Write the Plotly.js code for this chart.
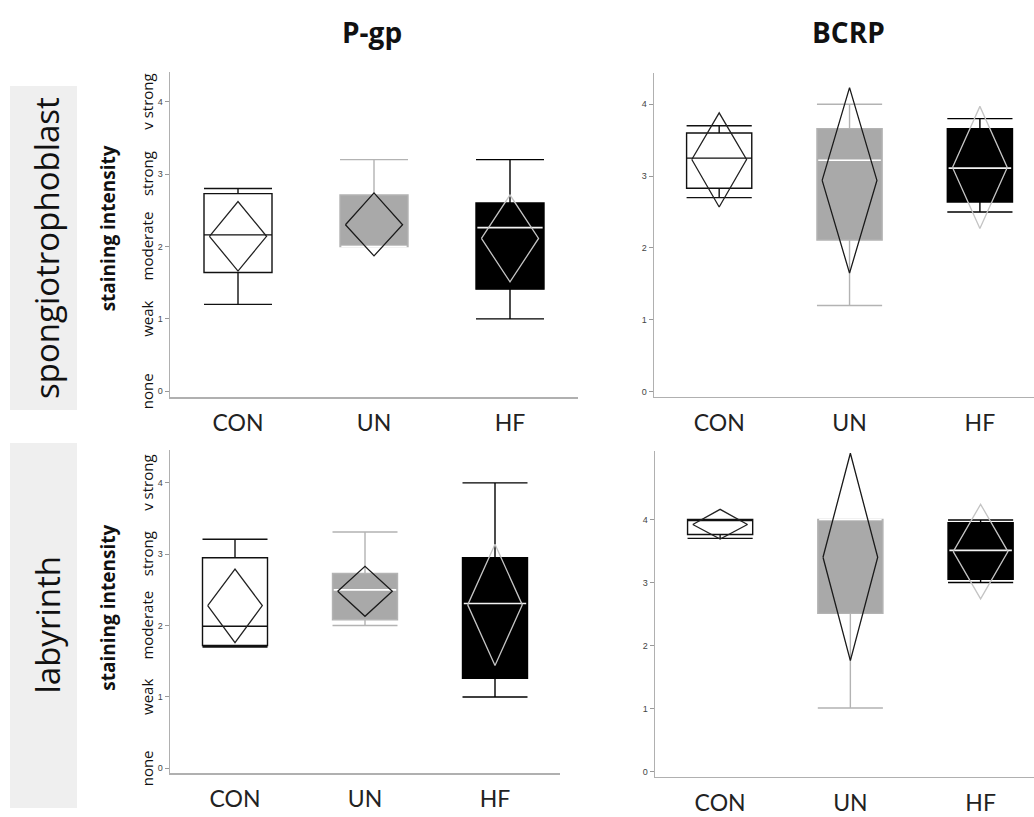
<!DOCTYPE html>
<html>
<head>
<meta charset="utf-8">
<script src="https://cdn.plot.ly/plotly-3.0.1.min.js"></script>
<style>html,body{margin:0;padding:0;background:#fff;}#chart{width:1034px;height:817px;}</style>
</head>
<body>
<div id="chart"></div>
<script>
// ---- data ----
const categories = ['CON', 'UN', 'HF'];
const columnTitles = ['P-gp', 'BCRP'];
const rowTitles = ['spongiotrophoblast', 'labyrinth'];
const intensityLabels = ['none', 'weak', 'moderate', 'strong', 'v strong'];
const yTickValues = [0, 1, 2, 3, 4];
// box stats per group: [lower whisker, q1, median, q3, upper whisker]
const pgpSpongioBox = [[1.20, 1.64, 2.16, 2.73, 2.80], [2.00, 2.00, 2.00, 2.71, 3.20], [1.00, 1.41, 2.26, 2.60, 3.20]];
const bcrpSpongioBox = [[2.70, 2.83, 3.25, 3.60, 3.70], [1.20, 2.11, 3.22, 3.66, 4.00], [2.50, 2.64, 3.11, 3.66, 3.80]];
const pgpLabBox = [[1.70, 1.72, 1.99, 2.95, 3.21], [2.00, 2.08, 2.50, 2.73, 3.31], [1.00, 1.26, 2.31, 2.95, 4.00]];
const bcrpLabBox = [[3.70, 3.76, 4.00, 4.00, 4.00], [1.01, 2.51, 4.00, 4.00, 4.00], [3.00, 3.05, 3.51, 3.95, 3.99]];
// means diamonds per group: [lower CI, mean, upper CI]
const pgpSpongioDiamond = [[1.66, 2.14, 2.62], [1.87, 2.30, 2.74], [1.51, 2.11, 2.71]];
const bcrpSpongioDiamond = [[2.57, 3.23, 3.88], [1.65, 2.94, 4.23], [2.27, 3.12, 3.97]];
const pgpLabDiamond = [[1.76, 2.28, 2.79], [2.13, 2.48, 2.83], [1.44, 2.29, 3.14]];
const bcrpLabDiamond = [[3.69, 3.92, 4.16], [1.76, 3.40, 5.05], [2.74, 3.49, 4.24]];

// ---- styling ----
const W = 1034, H = 817;
const px = x => x / W;
const py = y => 1 - y / H;
const groupStyle = [
  {fill: '#ffffff', line: '#111111', diamond: '#222222', median: null},
  {fill: '#a9a9a9', line: '#b3b3b3', diamond: '#1a1a1a', median: '#ffffff'},
  {fill: '#000000', line: '#000000', diamond: '#c4c4c4', median: '#f2f2f2'}
];
const panels = [
  {box: pgpSpongioBox, dia: pgpSpongioDiamond, xa: 'x', ya: 'y', ax: 'xaxis', ay: 'yaxis',
   xd: [px(170), px(578)], xr: [-0.5, 2.5], yd: [py(397), py(72)], yr: [-0.08, 4.41], left: true},
  {box: bcrpSpongioBox, dia: bcrpSpongioDiamond, xa: 'x2', ya: 'y2', ax: 'xaxis2', ay: 'yaxis2',
   xd: [px(654), 1], xr: [-0.5, 2.415], yd: [py(396.7), py(73.3)], yr: [-0.07, 4.43], left: false},
  {box: pgpLabBox, dia: pgpLabDiamond, xa: 'x3', ya: 'y3', ax: 'xaxis3', ay: 'yaxis3',
   xd: [px(170), px(560)], xr: [-0.5, 2.5], yd: [py(773.3), py(450)], yr: [-0.07, 4.46], left: true},
  {box: bcrpLabBox, dia: bcrpLabDiamond, xa: 'x4', ya: 'y4', ax: 'xaxis4', ay: 'yaxis4',
   xd: [px(655), 1], xr: [-0.5, 2.41], yd: [py(776.7), py(450.7)], yr: [-0.08, 5.09], left: false}
];
const boxWidth = 0.5, diamondHalf = 0.21;

const traces = [];
const layout = {
  width: W, height: H, margin: {l: 0, r: 0, t: 0, b: 0},
  paper_bgcolor: '#ffffff', plot_bgcolor: 'rgba(0,0,0,0)', showlegend: false,
  shapes: [], annotations: []
};

panels.forEach(p => {
  categories.forEach((c, i) => {
    const s = groupStyle[i];
    const b = p.box[i];
    traces.push({
      type: 'box', xaxis: p.xa, yaxis: p.ya, name: c,
      x: [i], lowerfence: [b[0]], q1: [b[1]], median: [b[2]], q3: [b[3]], upperfence: [b[4]],
      width: boxWidth, whiskerwidth: 1, boxpoints: false,
      fillcolor: s.fill, line: {color: s.line, width: 1.4}, hoverinfo: 'skip'
    });
  });
  categories.forEach((c, i) => {
    const s = groupStyle[i];
    const b = p.box[i];
    if (s.median) {
      traces.push({
        type: 'scatter', mode: 'lines', xaxis: p.xa, yaxis: p.ya,
        x: [i - boxWidth / 2 + 0.01, i + boxWidth / 2 - 0.01], y: [b[2], b[2]],
        line: {color: s.median, width: 1.6}, hoverinfo: 'skip'
      });
    }
    const d = p.dia[i];
    traces.push({
      type: 'scatter', mode: 'lines', xaxis: p.xa, yaxis: p.ya,
      x: [i - diamondHalf, i, i + diamondHalf, i, i - diamondHalf],
      y: [d[1], d[2], d[1], d[0], d[1]],
      line: {color: s.diamond, width: 1.3}, hoverinfo: 'skip'
    });
  });
  layout[p.ax] = {
    domain: p.xd, range: p.xr, anchor: p.ya, fixedrange: true,
    tickvals: [0, 1, 2], ticktext: categories, ticks: '', showgrid: false, zeroline: false,
    showline: true, linecolor: '#b0b0b0', linewidth: 1.5,
    tickfont: {family: 'Lato, DejaVu Sans, sans-serif', size: 23, color: '#222'},
    ticklabelstandoff: 5
  };
  layout[p.ay] = {
    domain: p.yd, range: p.yr, anchor: p.xa, fixedrange: true,
    tickvals: yTickValues, ticks: 'outside', ticklen: 4, tickcolor: '#999', tickwidth: 1,
    showgrid: false, zeroline: false, showline: true, linecolor: '#b0b0b0', linewidth: 1.5,
    tickfont: {family: 'Liberation Sans, Arial, sans-serif', size: 9, color: '#444'}
  };
  if (p.left) {
    intensityLabels.forEach((t, k) => {
      layout.annotations.push({
        text: t, xref: 'paper', x: px(147), yref: p.ya, y: yTickValues[k],
        showarrow: false, textangle: -90, xanchor: 'center', yanchor: 'middle',
        font: {family: 'Open Sans, sans-serif', size: 15, color: '#111'}
      });
    });
    layout.annotations.push({
      text: 'staining intensity', xref: 'paper', x: px(108), yref: p.ya, y: 2.25,
      showarrow: false, textangle: -90, xanchor: 'center', yanchor: 'middle',
      font: {family: 'Open Sans, sans-serif', size: 19, color: '#111', weight: 'bold'}
    });
  }
});

// column titles
[[columnTitles[0], 372], [columnTitles[1], 848]].forEach(([t, x]) => {
  layout.annotations.push({
    text: '<b>' + t + '</b>', xref: 'paper', yref: 'paper', x: px(x), y: py(32),
    showarrow: false, xanchor: 'center', yanchor: 'middle',
    font: {family: 'Open Sans, sans-serif', size: 28, color: '#111'}
  });
});
// row headers
[[rowTitles[0], 86, 410], [rowTitles[1], 443, 808]].forEach(([t, y0, y1]) => {
  layout.shapes.push({type: 'rect', xref: 'paper', yref: 'paper', x0: px(10), x1: px(77),
    y0: py(y1), y1: py(y0), fillcolor: '#efefef', line: {width: 0}, layer: 'below'});
  layout.annotations.push({
    text: t, xref: 'paper', yref: 'paper', x: px(47), y: py((y0 + y1) / 2),
    showarrow: false, textangle: -90, xanchor: 'center', yanchor: 'middle',
    font: {family: 'Open Sans, sans-serif', size: 33, color: '#111'}
  });
});

Plotly.newPlot('chart', traces, layout, {staticPlot: true, displayModeBar: false});
</script>
</body>
</html>
